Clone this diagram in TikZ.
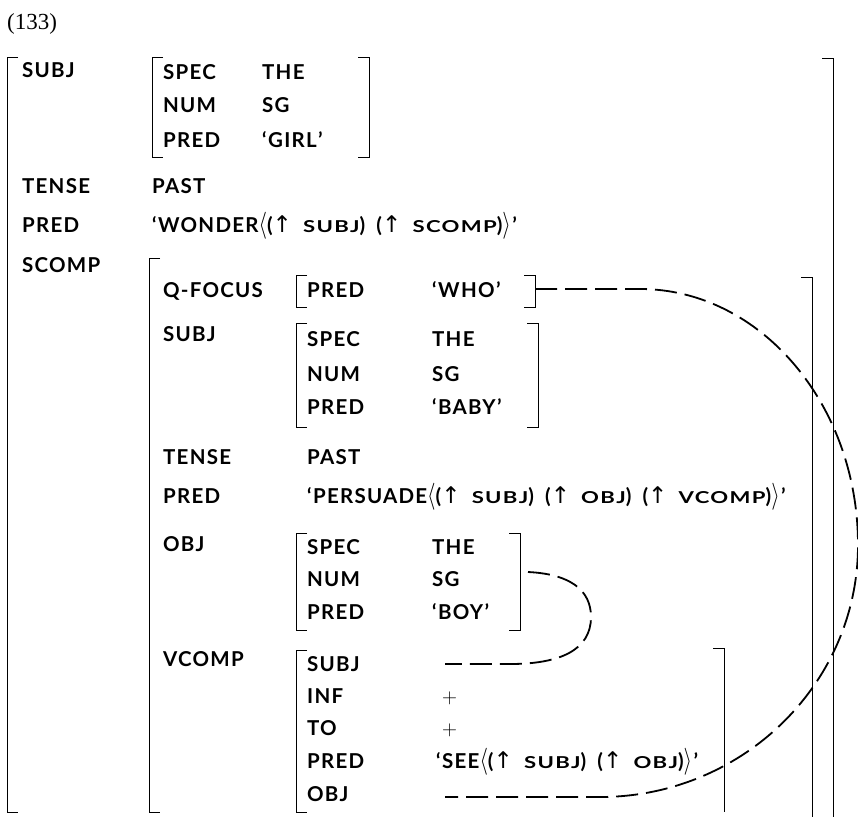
\documentclass[tikz,border=0pt]{standalone}
\usepackage{graphicx}
\usepackage{fontspec}
\setmainfont{Lato}[LetterSpace=6, WordSpace=1.8]
\newfontfamily\exnumfont{Liberation Serif}
\newfontfamily\arrowfont{DejaVu Sans}
\usetikzlibrary{positioning, calc}

\newcommand{\avmfont}{\fontsize{20.5}{24}\selectfont\bfseries}
\newcommand{\smc}[1]{\scalebox{1.08}[0.8]{#1}}
\newcommand{\sem}[1]{‘\hspace{1.5pt}#1\hspace{1.5pt}’}
\newcommand{\upa}{{\arrowfont\mdseries\fontsize{23}{24}\selectfont ↑}}
\newcommand{\lang}{\scalebox{1.05}[1.3]{$\langle$}}
\newcommand{\rang}{\scalebox{1.05}[1.3]{$\rangle$}}
% left bracket: x, top, bottom / right bracket: x, top, bottom
\newcommand{\avmlb}[3]{\draw[bracket] (#1+11,#2) -- (#1,#2) -- (#1,#3) -- (#1+11,#3);}
\newcommand{\avmrb}[3]{\draw[bracket] (#1-11,#2) -- (#1,#2) -- (#1,#3) -- (#1-11,#3);}
\newcommand{\avmrt}[3]{\draw[bracket] (#1-11,#2) -- (#1,#2) -- (#1,#3);}

\tikzset{
  attr/.style={anchor=base west, inner sep=0pt, font=\avmfont},
  val/.style={anchor=base west, inner sep=0pt, font=\avmfont},
  bracket/.style={line width=0.9pt},
  link/.style={line width=1.8pt, dash pattern=on 22pt off 8pt},
}

\begin{document}
\begin{tikzpicture}[x=1pt, y=-1pt]
  \useasboundingbox (0,0) rectangle (858,817);

  % Example number
  \node[anchor=base west, inner sep=0pt, font=\exnumfont\fontsize{23}{25}\selectfont]
    (exnum) at (7,29) {(133)};

  % Outer f-structure
  \avmlb{7}{57}{812}
  \avmrt{833}{58}{817}

  % SUBJ
  \node[attr] (subj) at (22,77) {SUBJ};
  \avmlb{152}{57}{157}
  \avmrb{369}{57}{157}
  \node[attr] (gspec) at (163,79) {SPEC};  \node[val] (gspecv) at (262,79) {THE};
  \node[attr] (gnum)  at (163,112) {NUM};  \node[val] (gnumv)  at (262,112) {SG};
  \node[attr] (gpred) at (163,147) {PRED}; \node[val] (gpredv) at (262,147) {\sem{GIRL}};

  % TENSE, PRED
  \node[attr] (tense) at (22,193) {TENSE};
  \node[val] (tensev) at (152,193) {PAST};
  \node[attr] (pred) at (22,232) {PRED};
  \node[val] (predv) at (152,232)
    {\sem{WONDER\lang(\upa\ \smc{SUBJ}) (\upa\ \smc{SCOMP})\rang}};

  % SCOMP
  \node[attr] (scomp) at (22,272) {SCOMP};
  \avmlb{149}{258}{812}
  \avmrt{812}{277}{817}

  % Q-FOCUS
  \node[attr] (qfoc) at (163,297) {Q-FOCUS};
  \avmlb{296}{275}{307}
  \avmrb{535}{275}{307}
  \node[attr] (qpred) at (307,297) {PRED}; \node[val] (qpredv) at (432,297) {\sem{WHO}};
  \coordinate (whoR) at (535,289);

  % SUBJ of SCOMP
  \node[attr] (ssubj) at (163,341) {SUBJ};
  \avmlb{296}{323}{427}
  \avmrb{538}{323}{427}
  \node[attr] (bspec) at (307,346) {SPEC}; \node[val] (bspecv) at (432,346) {THE};
  \node[attr] (bnum)  at (307,381) {NUM};  \node[val] (bnumv)  at (432,381) {SG};
  \node[attr] (bpred) at (307,414) {PRED}; \node[val] (bpredv) at (432,414) {\sem{BABY}};

  % TENSE, PRED of SCOMP
  \node[attr] (stense) at (163,464) {TENSE};
  \node[val] (stensev) at (307,464) {PAST};
  \node[attr] (spred) at (163,503) {PRED};
  \node[val] (spredv) at (307,503)
    {\sem{PERSUADE\lang(\upa\ \smc{SUBJ}) (\upa\ \smc{OBJ}) (\upa\ \smc{VCOMP})\rang}};

  % OBJ
  \node[attr] (obj) at (163,551) {OBJ};
  \avmlb{296}{533}{630}
  \avmrb{520}{533}{630}
  \node[attr] (ospec) at (307,554) {SPEC}; \node[val] (ospecv) at (432,554) {THE};
  \node[attr] (onum)  at (307,586) {NUM};  \node[val] (onumv)  at (432,586) {SG};
  \node[attr] (opred) at (307,619) {PRED}; \node[val] (opredv) at (432,619) {\sem{BOY}};
  \coordinate (boyR) at (528,572);

  % VCOMP
  \node[attr] (vcomp) at (163,666) {VCOMP};
  \avmlb{296}{650}{812}
  \avmrt{724}{648}{812}
  \node[attr] (vsubj) at (307,671) {SUBJ};
  \node[attr] (vinf)  at (307,703) {INF};  \node[val] (vinfv) at (442,703) {$+$};
  \node[attr] (vto)   at (307,735) {TO};   \node[val] (vtov)  at (442,735) {$+$};
  \node[attr] (vpred) at (307,768) {PRED};
  \node[val] (vpredv) at (436,768)
    {\sem{SEE\lang(\upa\ \smc{SUBJ}) (\upa\ \smc{OBJ})\rang}};
  \node[attr] (vobj)  at (307,801) {OBJ};
  \coordinate (vsubjv) at (445,664);
  \coordinate (vobjv) at (445,797);

  % Control link (OBJ = VCOMP SUBJ)
  \draw[link] (boyR) .. controls (570,574) and (591,590) .. (591,617)
    .. controls (591,650) and (560,664) .. (510,664) -- (vsubjv);

  % Long-distance link (Q-FOCUS = VCOMP OBJ)
  \draw[link] (whoR) -- (640,289) .. controls (760,289) and (858,404) .. (858,545)
    .. controls (858,684) and (742,797) .. (600,797) -- (vobjv);

\end{tikzpicture}
\end{document}
